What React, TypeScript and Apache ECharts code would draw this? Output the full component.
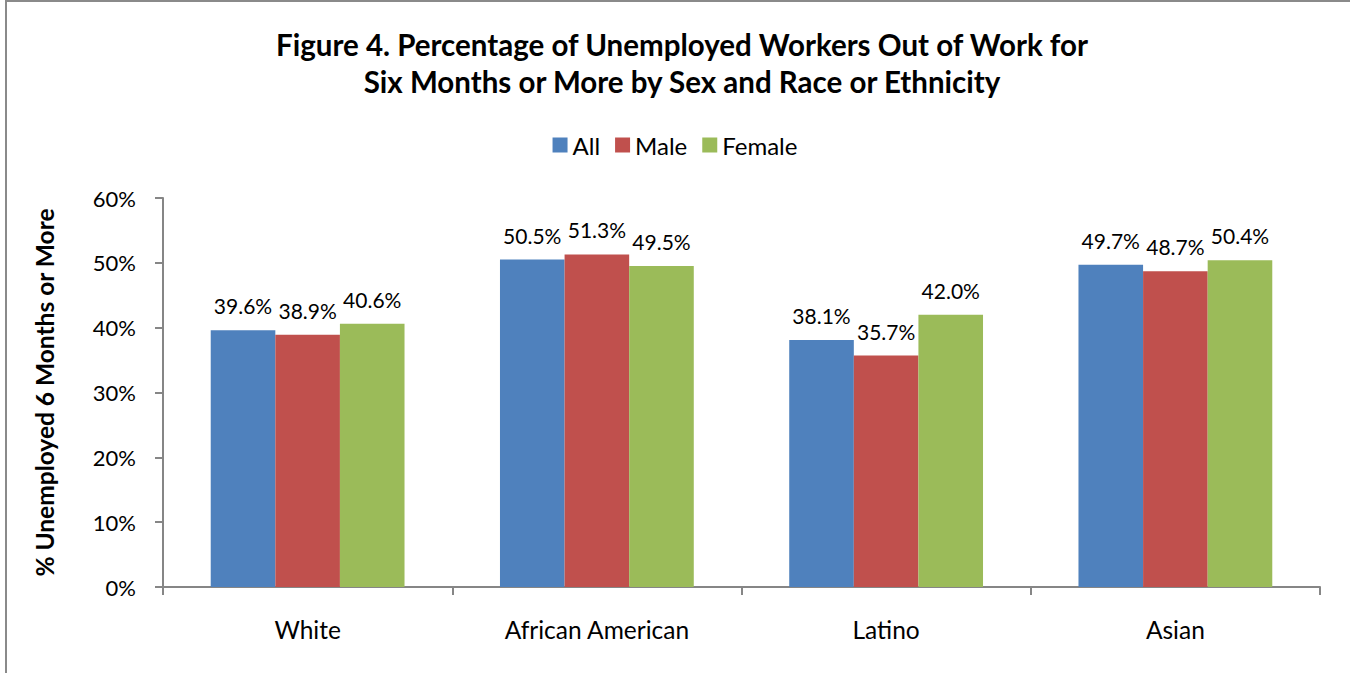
import React, { useEffect, useRef } from "react";
import * as echarts from "echarts";

const categories = ["White", "African American", "Latino", "Asian"];
const allValues = [39.6, 50.5, 38.1, 49.7];
const maleValues = [38.9, 51.3, 35.7, 48.7];
const femaleValues = [40.6, 49.5, 42.0, 50.4];
const seriesNames = ["All", "Male", "Female"];
const colors = ["#4F81BD", "#C0504D", "#9BBB59"];

const FONT = "Lato, 'Open Sans', sans-serif";

export default function App() {
  const ref = useRef<HTMLDivElement>(null);
  useEffect(() => {
    if (!ref.current) return;
    const chart = echarts.init(ref.current, null, { renderer: "svg" });
    const data = [allValues, maleValues, femaleValues];
    chart.setOption({
      animation: false,
      backgroundColor: "#ffffff",
      title: {
        text: "Figure 4. Percentage of Unemployed Workers Out of Work for\nSix Months or More by Sex and Race or Ethnicity",
        left: 677,
        textAlign: "center",
        top: 21,
        textStyle: {
          fontFamily: FONT,
          fontSize: 29.5,
          fontWeight: "bold",
          color: "#000",
          lineHeight: 37,
        },
      },
      legend: {
        top: 128,
        left: "center",
        itemWidth: 15,
        itemHeight: 15,
        itemGap: 15,
        icon: "rect",
        textStyle: { fontFamily: FONT, fontSize: 24, color: "#000", padding: [0, 0, 0, 0] },
        data: seriesNames,
      },
      grid: { left: 163, right: 30, top: 198, bottom: 86 },
      xAxis: {
        type: "category",
        data: categories,
        axisLine: { lineStyle: { color: "#868686", width: 2 } },
        axisTick: { show: true, length: 8, inside: false, lineStyle: { color: "#868686", width: 2 } },
        axisLabel: { fontFamily: FONT, fontSize: 24.5, color: "#000", margin: 30 },
      },
      yAxis: {
        type: "value",
        min: 0,
        max: 60,
        interval: 10,
        name: "% Unemployed 6 Months or More",
        nameLocation: "middle",
        nameGap: 106,
        nameTextStyle: { fontFamily: FONT, fontSize: 24.5, fontWeight: "bold", color: "#000" },
        axisLine: { show: true, lineStyle: { color: "#868686", width: 2 } },
        axisTick: { show: true, length: 8, lineStyle: { color: "#868686", width: 2 } },
        splitLine: { show: false },
        axisLabel: {
          fontFamily: FONT,
          fontSize: 22,
          color: "#000",
          margin: 27,
          formatter: (v: number) => v + "%",
        },
      },
      series: seriesNames.map((name, i) => ({
        name,
        type: "bar",
        data: data[i],
        barGap: "0%",
        barCategoryGap: "33%",
        itemStyle: { color: colors[i] },
        label: {
          show: true,
          position: "top",
          distance: 14,
          fontFamily: FONT,
          fontSize: 21,
          color: "#000",
          formatter: (p: any) => p.value.toFixed(1) + "%",
        },
      })),
      graphic: [
        {
          type: "rect",
          shape: { x: 6, y: 1, width: 1360, height: 690 },
          style: { fill: "none", stroke: "#8a8a8a", lineWidth: 2 },
          silent: true,
        },
      ],
    });
    return () => chart.dispose();
  }, []);
  return (
    <div
      ref={ref}
      style={{ position: "absolute", left: 0, top: 0, width: 1350, height: 673 }}
    />
  );
}
